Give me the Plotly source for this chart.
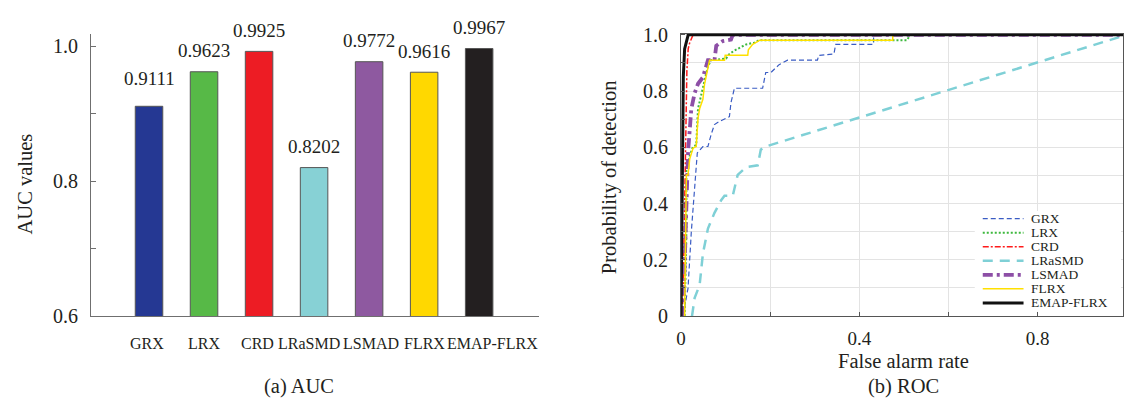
import plotly.graph_objects as go

# ---------------- data ----------------
methods = ["GRX", "LRX", "CRD", "LRaSMD", "LSMAD", "FLRX", "EMAP-FLRX"]
auc_values = [0.9111, 0.9623, 0.9925, 0.8202, 0.9772, 0.9616, 0.9967]
auc_text = ["0.9111", "0.9623", "0.9925", "0.8202", "0.9772", "0.9616", "0.9967"]

grx_far = [0.0045, 0.0156, 0.023, 0.0305, 0.0364, 0.049, 0.0603, 0.0677, 0.075, 0.086, 0.1085, 0.112,
           0.1197, 0.183, 0.19, 0.2016, 0.22, 0.239, 0.306, 0.309, 0.343, 0.347, 0.432, 0.432, 1.0]
grx_pd = [0.0, 0.099, 0.30, 0.457, 0.58, 0.603, 0.603, 0.647, 0.681, 0.692, 0.709, 0.759,
          0.81, 0.81, 0.866, 0.866, 0.894, 0.91, 0.91, 0.927, 0.932, 0.966, 0.966, 1.0, 1.0]

lrx_far = [0.008, 0.0119, 0.0119, 0.0193, 0.0268, 0.034, 0.038, 0.0453, 0.0528, 0.0603, 0.0677, 0.101,
           0.1085, 0.1197, 0.1346, 0.146, 0.164, 0.175, 0.507, 0.514, 1.0]
lrx_pd = [0.0, 0.30, 0.524, 0.569, 0.603, 0.608, 0.737, 0.782, 0.838, 0.888, 0.91, 0.916,
          0.932, 0.944, 0.955, 0.966, 0.972, 0.981, 0.981, 1.0, 1.0]

crd_far = [0.002, 0.005, 0.007, 0.009, 0.011, 0.013, 0.016, 0.019, 0.023, 0.027, 1.0]
crd_pd = [0.0, 0.10, 0.30, 0.55, 0.75, 0.87, 0.95, 0.97, 0.985, 1.0, 1.0]

lrasmd_far = [0.0245, 0.0305, 0.0416, 0.049, 0.0603, 0.075, 0.09, 0.0975, 0.116, 0.127, 0.146, 0.172,
              0.179, 0.19, 1.0]
lrasmd_pd = [0.0, 0.065, 0.11, 0.222, 0.311, 0.367, 0.412, 0.428, 0.428, 0.502, 0.53, 0.536,
             0.592, 0.603, 1.0]

lsmad_far = [0.0045, 0.008, 0.0119, 0.0156, 0.0193, 0.023, 0.0305, 0.038, 0.049, 0.0565, 0.0603, 0.075,
             0.0789, 0.0938, 0.112, 0.116, 1.0]
lsmad_pd = [0.0, 0.188, 0.45, 0.58, 0.659, 0.737, 0.793, 0.826, 0.849, 0.888, 0.91, 0.91,
            0.961, 0.978, 0.983, 1.0, 1.0]

flrx_far = [0.008, 0.01, 0.0119, 0.0156, 0.0193, 0.0268, 0.034, 0.038, 0.0416, 0.049, 0.0528, 0.0603,
            0.064, 0.0975, 0.099, 0.1496, 0.151, 0.1607, 0.177, 0.475, 0.475, 1.0]
flrx_pd = [0.0, 0.30, 0.502, 0.502, 0.558, 0.597, 0.603, 0.703, 0.737, 0.771, 0.826, 0.883,
           0.91, 0.91, 0.927, 0.927, 0.947, 0.966, 0.981, 0.981, 1.0, 1.0]

emap_far = [0.0, 0.002, 0.004, 0.005, 0.008, 0.012, 0.016, 1.0]
emap_pd = [0.0, 0.35, 0.70, 0.85, 0.95, 0.98, 1.0, 1.0]

roc_x_tickvals = [0, 0.4, 0.8]
roc_x_ticktext = ["0", "0.4", "0.8"]
roc_y_tickvals = [0, 0.2, 0.4, 0.6, 0.8, 1.0]
roc_y_ticktext = ["0", "0.2", "0.4", "0.6", "0.8", "1.0"]

# ---------------- styles ----------------
FONT = "Liberation Serif, Times New Roman, serif"
TXT = "#231f20"
bar_colors = ["#253893", "#57b947", "#ed1c24", "#87d1d5", "#8e59a0", "#ffd800", "#231f20"]
line_colors = ["#3a5cc4", "#3db83d", "#ff1a1a", "#7fd0d6", "#8d4fa6", "#ffe000", "#111111"]
line_dash = ["5px,3px", "2px,2px", "6px,2px,2px,2px", "10px,7px", "10px,4px,3px,4px", "solid", "solid"]
line_width = [1.2, 2.0, 1.5, 2.5, 3.8, 1.5, 3.0]
label_nudge = [-2, 0, -2, -5, 1.5, 0, 13.5]
value_nudge = [7, 0, 0, 0, 0, 0, 0]

W, H = 1124, 408

fig = go.Figure()

# ---- bar chart ----
fig.add_trace(go.Bar(
    x=methods, y=auc_values, width=0.5,
    marker=dict(color=bar_colors, line=dict(color="#555555", width=1)),
    xaxis="x", yaxis="y", showlegend=False,
))

# ---- ROC curves ----
roc_sets = [(grx_far, grx_pd), (lrx_far, lrx_pd), (crd_far, crd_pd), (lrasmd_far, lrasmd_pd),
            (lsmad_far, lsmad_pd), (flrx_far, flrx_pd), (emap_far, emap_pd)]
for i, (fx, fy) in enumerate(roc_sets):
    fig.add_trace(go.Scatter(
        x=fx, y=fy, mode="lines", name=methods[i],
        line=dict(color=line_colors[i], width=line_width[i], dash=line_dash[i]),
        xaxis="x2", yaxis="y2", showlegend=False,
    ))

annotations = []
shapes = []

# category labels and value labels
for i, m in enumerate(methods):
    annotations.append(dict(x=m, y=0.6, xref="x", yref="y", text=m, showarrow=False,
                            xanchor="center", yanchor="middle", yshift=-27, xshift=label_nudge[i],
                            font=dict(family=FONT, size=16, color=TXT)))
    annotations.append(dict(x=m, y=auc_values[i], xref="x", yref="y", text=auc_text[i], showarrow=False,
                            xanchor="center", yanchor="middle", yshift=21 + value_nudge[i],
                            font=dict(family=FONT, size=19, color=TXT)))

# titles
def title_ann(x, y, text, angle=0):
    return dict(x=x / W, y=(H - y) / H, xref="paper", yref="paper", text=text, textangle=angle,
                showarrow=False, xanchor="center", yanchor="middle", borderpad=0,
                font=dict(family=FONT, size=20.5, color=TXT))

annotations += [
    title_ann(20, 183, "AUC values", -90),
    title_ann(296, 397, "(a) AUC"),
    title_ann(608.5, 176, "Probability of detection", -90),
    title_ann(903.5, 370.5, "False alarm rate"),
    title_ann(903.5, 397, "(b) ROC"),
]

# custom compact legend, like the original
shapes.append(dict(type="rect", xref="paper", yref="paper", x0=975 / W, x1=1122 / W,
                   y0=(H - 318) / H, y1=(H - 212) / H, fillcolor="white", line=dict(width=0),
                   layer="above"))
for i, m in enumerate(methods):
    yy = (H - (220 + 14.8 * i)) / H
    shapes.append(dict(type="line", xref="paper", yref="paper", x0=983 / W, x1=1024 / W, y0=yy, y1=yy,
                       line=dict(color=line_colors[i], width=line_width[i], dash=line_dash[i]),
                       layer="above"))
    annotations.append(dict(x=1030 / W, y=yy, xref="paper", yref="paper", text=m, showarrow=False,
                            xanchor="left", yanchor="middle", borderpad=0,
                            font=dict(family=FONT, size=13.5, color=TXT)))

ydom = [(H - 322.7) / H, (H - 25) / H]

fig.update_layout(
    width=W, height=H,
    margin=dict(l=0, r=0, t=0, b=0),
    paper_bgcolor="white", plot_bgcolor="white",
    font=dict(family=FONT, color=TXT),
    xaxis=dict(domain=[86.7 / W, 537 / W], range=[-1.05, 7.09], anchor="y",
               showline=True, linecolor="#6f6f6f", linewidth=1.3, ticks="", showticklabels=False,
               showgrid=False, zeroline=False, fixedrange=True),
    yaxis=dict(domain=ydom, range=[0.6, 1.0187], anchor="x",
               tickmode="linear", tick0=0.6, dtick=0.2, tickformat=".1f",
               ticks="inside", ticklen=5, tickcolor="#6f6f6f", ticklabelstandoff=8,
               minor=dict(dtick=0.1, tick0=0.6, ticks="inside", ticklen=5, tickcolor="#6f6f6f"),
               showline=True, linecolor="#6f6f6f", linewidth=1.3, showgrid=False, zeroline=False,
               tickfont=dict(family=FONT, size=20, color=TXT)),
    xaxis2=dict(domain=[679.7 / W, 1.0], range=[0, (W - 679.7) / 448], anchor="y2",
                tickmode="array", tickvals=roc_x_tickvals, ticktext=roc_x_ticktext,
                ticks="inside", ticklen=4, tickcolor="#555", ticklabelstandoff=5,
                showgrid=True, gridcolor="#e3e3e3", gridwidth=1,
                minor=dict(dtick=0.2, tick0=0, ticks="inside", ticklen=4, tickcolor="#555",
                           showgrid=True, gridcolor="#e3e3e3", gridwidth=1),
                showline=True, linecolor="#555", linewidth=1.3, mirror=True, zeroline=False,
                tickfont=dict(family=FONT, size=19, color=TXT)),
    yaxis2=dict(domain=ydom, range=[0, 1.004], anchor="x2",
                tickmode="array", tickvals=roc_y_tickvals, ticktext=roc_y_ticktext,
                ticks="inside", ticklen=4, tickcolor="#555", ticklabelstandoff=8,
                showgrid=True, gridcolor="#e3e3e3", gridwidth=1,
                minor=dict(dtick=0.1, tick0=0, ticks="inside", ticklen=4, tickcolor="#555",
                           showgrid=True, gridcolor="#e3e3e3", gridwidth=1),
                showline=True, linecolor="#555", linewidth=1.3, mirror=True, zeroline=False,
                tickfont=dict(family=FONT, size=20, color=TXT)),
    annotations=annotations,
    shapes=shapes,
)

fig.write_html("out.html")
